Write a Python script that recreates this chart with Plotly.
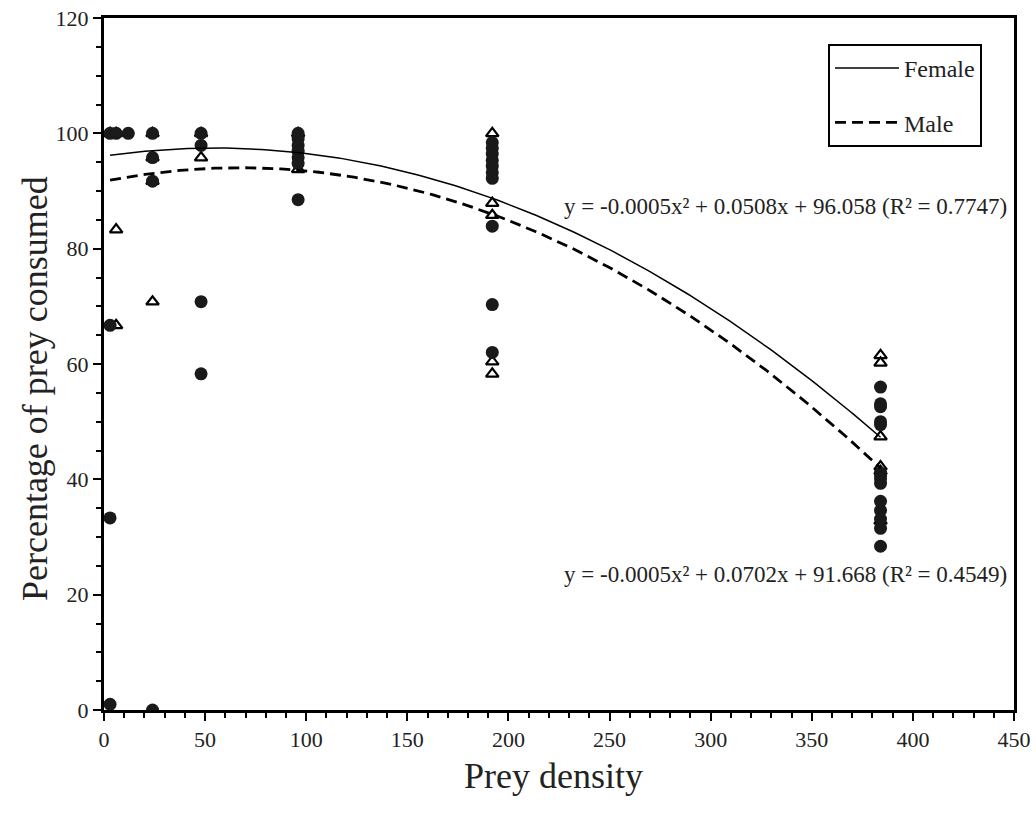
import numpy as np
import plotly.graph_objects as go

# ---- data ----
circle_x = [3, 3, 3, 3, 6, 12,
            24, 24, 24, 24,
            48, 48, 48, 48,
            96, 96, 96, 96, 96, 96, 96,
            192, 192, 192, 192, 192, 192, 192, 192, 192, 192,
            384, 384, 384, 384, 384, 384, 384, 384, 384, 384, 384, 384, 384, 384]
circle_y = [100, 66.7, 33.3, 1, 100, 100,
            100, 95.8, 91.7, 0,
            100, 97.9, 70.8, 58.3,
            100, 99.0, 97.9, 96.9, 95.8, 94.8, 88.5,
            98.4, 97.4, 96.4, 95.3, 94.3, 93.2, 92.2, 83.9, 70.3, 62.0,
            56.0, 53.1, 52.6, 50.0, 49.5, 41.1, 40.6, 40.1, 39.3, 36.2, 34.6, 33.1, 31.5, 28.4]

tri_x = [3, 6, 6, 6,
         24, 24, 24, 24,
         48, 48,
         96, 96,
         192, 192, 192, 192, 192,
         384, 384, 384, 384, 384, 384]
tri_y = [100, 100, 83.3, 66.7,
         100, 95.8, 91.7, 70.8,
         100, 95.8,
         100, 93.75,
         100, 87.9, 85.8, 60.4, 58.3,
         61.5, 60.2, 47.4, 42.2, 41.4, 32.8]

# quadratic trend coefficients (a, b, c) matching the drawn curves
female_coef = [-0.000463, 0.0508, 96.058]
male_coef = [-0.00052, 0.0702, 91.668]
trend_range = [3, 384]

eq_female = "y = -0.0005x² + 0.0508x + 96.058 (R² = 0.7747)"
eq_male = "y = -0.0005x² + 0.0702x + 91.668 (R² = 0.4549)"

x_ticks = [0, 50, 100, 150, 200, 250, 300, 350, 400, 450]
y_ticks = [0, 20, 40, 60, 80, 100, 120]

FONT = "Liberation Serif, Times New Roman, serif"

xs = np.linspace(trend_range[0], trend_range[1], 200)

fig = go.Figure()

fig.add_trace(go.Scatter(
    x=tri_x, y=tri_y, mode="markers", showlegend=False,
    marker=dict(symbol="triangle-up", size=11, color="white",
                line=dict(color="black", width=2.2))))

fig.add_trace(go.Scatter(
    x=circle_x, y=circle_y, mode="markers", showlegend=False,
    marker=dict(symbol="circle", size=13, color="#1a1a1a",
                line=dict(width=0))))

fig.add_trace(go.Scatter(
    x=xs, y=np.polyval(female_coef, xs), mode="lines", name="Female",
    legendgroup="f",
    line=dict(color="black", width=1.5)))

fig.add_trace(go.Scatter(
    x=xs, y=np.polyval(male_coef, xs), mode="lines", name="Male",
    legendgroup="m",
    line=dict(color="black", width=2.8, dash="11px,6px")))

fig.add_annotation(x=0.9945, y=0.728, xref="paper", yref="paper",
                   xanchor="right", yanchor="middle", text=eq_female,
                   showarrow=False, font=dict(family=FONT, size=23, color="#222"))
fig.add_annotation(x=0.9945, y=0.1965, xref="paper", yref="paper",
                   xanchor="right", yanchor="middle", text=eq_male,
                   showarrow=False, font=dict(family=FONT, size=23, color="#222"))

# axis titles
fig.add_annotation(x=0.4945, y=-0.095, xref="paper", yref="paper",
                   xanchor="center", yanchor="middle", text="Prey density",
                   showarrow=False, font=dict(family=FONT, size=36, color="#222"))
fig.add_annotation(x=-0.076, y=0.465, xref="paper", yref="paper",
                   xanchor="center", yanchor="middle", textangle=-90,
                   text="Percentage of prey consumed",
                   showarrow=False, font=dict(family=FONT, size=36, color="#222"))

axis_common = dict(showgrid=False, zeroline=False, showline=True,
                   linecolor="black", linewidth=3, mirror=True, automargin=False,
                   ticks="outside", ticklen=8, tickwidth=2, tickcolor="black",
                   tickfont=dict(family=FONT, size=22, color="#222"))

fig.update_xaxes(range=[0, 450], tickvals=x_ticks,
                 minor=dict(dtick=10, ticks="outside", ticklen=5, tickwidth=2, tickcolor="black"),
                 **axis_common)
fig.update_yaxes(range=[0, 120], tickvals=y_ticks,
                 minor=dict(dtick=5, ticks="outside", ticklen=5, tickwidth=2, tickcolor="black"),
                 **axis_common)

fig.update_layout(
    width=1036, height=818,
    margin=dict(l=104, r=22, t=18, b=108),
    plot_bgcolor="white", paper_bgcolor="white",
    font=dict(family=FONT, color="black"),
    legend=dict(x=0.7956, y=0.9624, xanchor="left", yanchor="top",
                bordercolor="black", borderwidth=2, bgcolor="white",
                font=dict(family=FONT, size=24, color="#222"),
                itemwidth=64, tracegroupgap=20),
)

fig.write_html("out.html")
